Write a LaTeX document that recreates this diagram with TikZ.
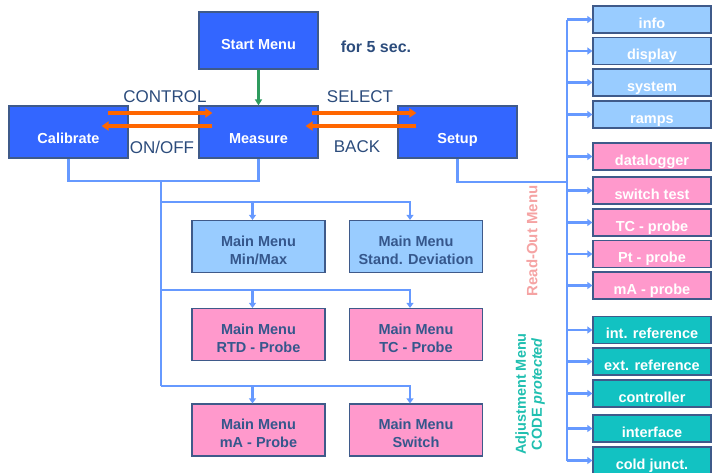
\documentclass[tikz,border=0pt]{standalone}
\usepackage{fontspec}
\setmainfont{Liberation Sans}
\usetikzlibrary{arrows.meta, calc}
\definecolor{menublue}{HTML}{3366FF}
\definecolor{menulight}{HTML}{99CCFF}
\definecolor{menupink}{HTML}{FF99CC}
\definecolor{menuteal}{HTML}{12C2C2}
\definecolor{framecol}{HTML}{3F5A8A}
\definecolor{textcol}{HTML}{35578C}
\definecolor{labelcol}{HTML}{2C4C7C}
\definecolor{linkcol}{HTML}{6699FF}
\definecolor{swapcol}{HTML}{FF6600}
\definecolor{startcol}{HTML}{2E9B5E}
\definecolor{readcol}{HTML}{F5A3A3}
\definecolor{adjcol}{HTML}{20BFB0}

\begin{document}
\begin{tikzpicture}
  [x=1pt,y=-1pt,
   menu box/.style={draw=framecol,line width=1.2pt,fill=#1,inner sep=0pt,
     font=\bfseries\fontsize{14.5}{18}\selectfont},
   top box/.style={menu box=menublue,text=white,minimum width=119pt,minimum height=52pt,
     text height=22pt,text depth=0pt},
   main box/.style={menu box=#1,text=textcol,minimum width=133pt,minimum height=52pt,align=center,
     text height=36pt,text depth=1pt},
   side box/.style={menu box=#1,text=white,minimum width=118pt,minimum height=27pt,
     text height=17pt,text depth=0pt},
   key label/.style={text=labelcol,font=\fontsize{17}{20}\selectfont},
   swap arrow/.style={draw=swapcol,line width=3.5pt,-{Triangle[length=7pt,width=9pt]}},
   link/.style={draw=linkcol,line width=2.3pt},
   link arrow/.style={link,-{Triangle[length=5pt,width=7pt]}}]

  \path[use as bounding box,clip] (0,0) rectangle (715,472);

  \node [top box,minimum height=57pt,text height=17pt] (start) at (258.5,40.5) {Start Menu};
  \node [top box] (cal) at (68.5,132) {Calibrate};
  \node [top box] (meas) at (258.5,132) {Measure};
  \node [top box] (setup) at (457.5,132) {Setup};

  \node [text=labelcol,font=\bfseries\fontsize{16}{19}\selectfont] (hold) at (376,47) {for 5 sec.};
  \node [key label] (control) at (165,97) {CONTROL};
  \node [key label] (onoff) at (162,147) {ON/OFF};
  \node [key label] (select) at (360,97) {SELECT};
  \node [key label] (back) at (357,147) {BACK};

  \draw [draw=startcol,line width=2.5pt,-{Triangle[length=6pt,width=7pt]}] (start) -- (meas);

  \draw [swap arrow] ([xshift=-21pt,yshift=19pt]cal.east) -- ([xshift=14pt,yshift=19pt]meas.west);
  \draw [swap arrow] ([xshift=14pt,yshift=6pt]meas.west) -- ([xshift=-27pt,yshift=6pt]cal.east);
  \draw [swap arrow] ([xshift=-7pt,yshift=19pt]meas.east) -- ([xshift=19pt,yshift=19pt]setup.west);
  \draw [swap arrow] ([xshift=19pt,yshift=6pt]setup.west) -- ([xshift=-13pt,yshift=6pt]meas.east);

  % main menus
  \node [main box=menulight] (minmax) at (258.5,246.5) {Main Menu\\Min/Max};
  \node [main box=menulight] (stddev) at (416,246.5) {Main Menu\\Stand. Deviation};
  \node [main box=menupink] (rtd) at (258.5,334.5) {Main Menu\\RTD - Probe};
  \node [main box=menupink] (tc) at (416,334.5) {Main Menu\\TC - Probe};
  \node [main box=menupink] (ma) at (258.5,430) {Main Menu\\mA - Probe};
  \node [main box=menupink] (switch) at (416,430) {Main Menu\\Switch};

  \coordinate (join) at (161,181);
  \coordinate (row a) at (161,202);
  \coordinate (row b) at (161,290);
  \coordinate (row c) at (161,386);

  \draw [link] (cal.south) |- (join) -| (meas.south);
  \draw [link] (join) -- (row c);
  \draw [link arrow] (row a) -| ([xshift=-6pt]stddev.north);
  \draw [link arrow] ([xshift=-6pt]minmax.north |- row a) -- ([xshift=-6pt]minmax.north);
  \draw [link arrow] (row b) -| ([xshift=-6pt]tc.north);
  \draw [link arrow] ([xshift=-6pt]rtd.north |- row b) -- ([xshift=-6pt]rtd.north);
  \draw [link arrow] (row c) -| ([xshift=-6pt]switch.north);
  \draw [link arrow] ([xshift=-6pt]ma.north |- row c) -- ([xshift=-6pt]ma.north);

  % setup menus
  \foreach \name/\txt/\col/\y in {info/info/menulight/19.5, display/display/menulight/51,
      system/system/menulight/82.5, ramps/ramps/menulight/114.5,
      logger/datalogger/menupink/156.5, swtest/switch test/menupink/190.5,
      tcprobe/TC - probe/menupink/222.5, ptprobe/Pt - probe/menupink/254,
      maprobe/mA - probe/menupink/285.5, intref/int. reference/menuteal/330,
      extref/ext. reference/menuteal/361.5, ctrl/controller/menuteal/393.5,
      iface/interface/menuteal/428.5, cold/cold junct./menuteal/460.5}
    \node [side box=\col] (\name) at (652,\y) {\txt};

  \coordinate (spine) at (567,182);
  \draw [link] (info.west -| spine) -- (cold.west -| spine);
  \draw [link] (setup.south) |- (spine);
  \foreach \name in {info,display,system,ramps,logger,swtest,tcprobe,ptprobe,maprobe,
      intref,extref,ctrl,iface,cold}
    \draw [link arrow] (\name.west -| spine) -- (\name.west);

  \node [rotate=90,text=readcol,font=\bfseries\fontsize{15}{17}\selectfont] (readout) at (532,241) {Read-Out Menu};
  \node [rotate=90,align=center,text=adjcol,font=\bfseries\fontsize{14.5}{16}\selectfont] (adjust) at (530,394)
    {Adjustment Menu\\CODE \textit{protected}};

\end{tikzpicture}
\end{document}
